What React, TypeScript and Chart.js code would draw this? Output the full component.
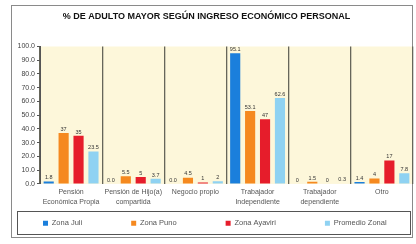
import React, { useEffect, useRef } from "react";
import { Chart, registerables } from "chart.js";

Chart.register(...registerables);

const title = "% DE ADULTO MAYOR SEGÚN INGRESO ECONÓMICO PERSONAL";
const categories: string[][] = [
  ["Pensión", "Económica Propia"],
  ["Pensión de Hijo(a)", "compartida"],
  ["Negocio propio"],
  ["Trabajador", "Independiente"],
  ["Trabajador", "dependiente"],
  ["Otro"],
];
const seriesNames = ["Zona Juli", "Zona Puno", "Zona Ayaviri", "Promedio Zonal"];
const juli = [1.8, 0.0, 0.0, 95.1, 0, 1.4];
const puno = [37, 5.5, 4.5, 53.1, 1.5, 4];
const ayaviri = [35, 5, 1, 47, 0, 17];
const promedio = [23.5, 3.7, 2, 62.6, 0.3, 7.8];
const juliText = ["1.8", "0.0", "0.0", "95.1", "0", "1.4"];
const punoText = ["37", "5.5", "4.5", "53.1", "1.5", "4"];
const ayaviriText = ["35", "5", "1", "47", "0", "17"];
const promedioText = ["23.5", "3.7", "2", "62.6", "0.3", "7.8"];
const yTicks = [0, 10, 20, 30, 40, 50, 60, 70, 80, 90, 100];

const colors = ["#1b7fdc", "#f5891f", "#e61d2b", "#8fd2f2"];
const FONT = "'Liberation Sans', Arial, sans-serif";

const LEGEND_GAP = 49; // horizontal spacing between legend items
const LEGEND_PAD = 10; // vertical padding inside legend
const LEGEND_H = 26;
const LEGEND_START = 43;

export default function App() {
  const ref = useRef<HTMLCanvasElement>(null);
  useEffect(() => {
    if (!ref.current) return;
    const texts = [juliText, punoText, ayaviriText, promedioText];
    const frame = {
      id: "frame",
      afterInit(chart: any) {
        const lg = chart.legend;
        if (!lg) return;
        const orig = lg.fit.bind(lg);
        lg.fit = () => {
          const mw = lg.maxWidth;
          lg.maxWidth = 3000;
          orig();
          lg.maxWidth = mw;
          lg.width = mw;
          lg.height = LEGEND_H;
        };
      },
      afterLayout(chart: any) {
        const lg = chart.legend;
        lg._boxTop = lg.top;
        lg.top = lg.top - (LEGEND_GAP - LEGEND_PAD);
        const W = lg.lineWidths ? lg.lineWidths[0] : 0;
        lg.right = 2000;
        lg.left = 2 * LEGEND_START - LEGEND_GAP - lg.right + W;
      },
      beforeDraw(chart: any) {
        const { ctx, chartArea: a } = chart;
        ctx.save();
        ctx.fillStyle = "#ffffff";
        ctx.fillRect(0, 0, chart.width, chart.height);
        ctx.fillStyle = "#fdf7da";
        ctx.fillRect(a.left, a.top, a.right - a.left, a.bottom - a.top);
        ctx.strokeStyle = "#8a8a8a";
        ctx.lineWidth = 1;
        ctx.strokeRect(11.5, 5.5, 401, 232);
        const lg = chart.legend;
        ctx.strokeStyle = "#555555";
        ctx.strokeRect(17.5, Math.round(lg._boxTop) + 1.5, 393, LEGEND_H - 3);
        ctx.restore();
      },
      afterDatasetsDraw(chart: any) {
        const { ctx } = chart;
        ctx.save();
        ctx.font = `5.5px ${FONT}`;
        ctx.fillStyle = "#333333";
        ctx.textAlign = "center";
        ctx.textBaseline = "bottom";
        chart.data.datasets.forEach((ds: any, i: number) => {
          const meta = chart.getDatasetMeta(i);
          meta.data.forEach((el: any, j: number) => {
            ctx.fillText(texts[i][j], el.x, el.y - 1);
          });
        });
        ctx.restore();
      },
    };
    const chart = new Chart(ref.current, {
      type: "bar",
      data: {
        labels: categories,
        datasets: [juli, puno, ayaviri, promedio].map((d, i) => ({
          label: seriesNames[i],
          data: d,
          backgroundColor: colors[i],
          borderWidth: 0,
          categoryPercentage: 0.96,
          barPercentage: 0.68,
        })),
      },
      options: {
        animation: false,
        responsive: false,
        layout: { padding: { left: 0, right: 3, top: 0, bottom: 8.5 } },
        plugins: {
          title: {
            display: true,
            text: title,
            color: "#111111",
            font: { family: FONT, size: 9, weight: "bold" },
            padding: { top: 11, bottom: 24.7 },
          },
          legend: {
            position: "bottom",
            labels: {
              boxWidth: 5,
              boxHeight: 5,
              padding: LEGEND_GAP,
              color: "#555555",
              font: { family: FONT, size: 7.5 },
            },
          },
          tooltip: { enabled: false },
        },
        scales: {
          x: {
            grid: {
              offset: true,
              drawOnChartArea: true,
              drawTicks: false,
              color: "#66665a",
              lineWidth: 1.3,
            },
            border: { display: false },
            ticks: {
              color: "#555555",
              font: { family: FONT, size: 7, lineHeight: 1.4 },
              padding: 3,
              maxRotation: 0,
              autoSkip: false,
            },
          },
          y: {
            min: 0,
            max: 100,
            afterFit(scale: any) {
              scale.width = 40;
            },
            afterBuildTicks(scale: any) {
              scale.ticks = yTicks.map((v) => ({ value: v }));
            },
            grid: { drawOnChartArea: false, drawTicks: true, tickLength: 3, color: "#555555" },
            border: { display: true, color: "#555555" },
            ticks: {
              color: "#444444",
              font: { family: FONT, size: 7 },
              padding: 2,
              callback: (v: any) => Number(v).toFixed(1),
            },
          },
        },
      },
      plugins: [frame],
    });
    return () => chart.destroy();
  }, []);
  return (
    <div style={{ position: "absolute", left: 0, top: 0, width: 416, height: 244 }}>
      <canvas ref={ref} width={416} height={244} style={{ width: 416, height: 244 }} />
    </div>
  );
}
